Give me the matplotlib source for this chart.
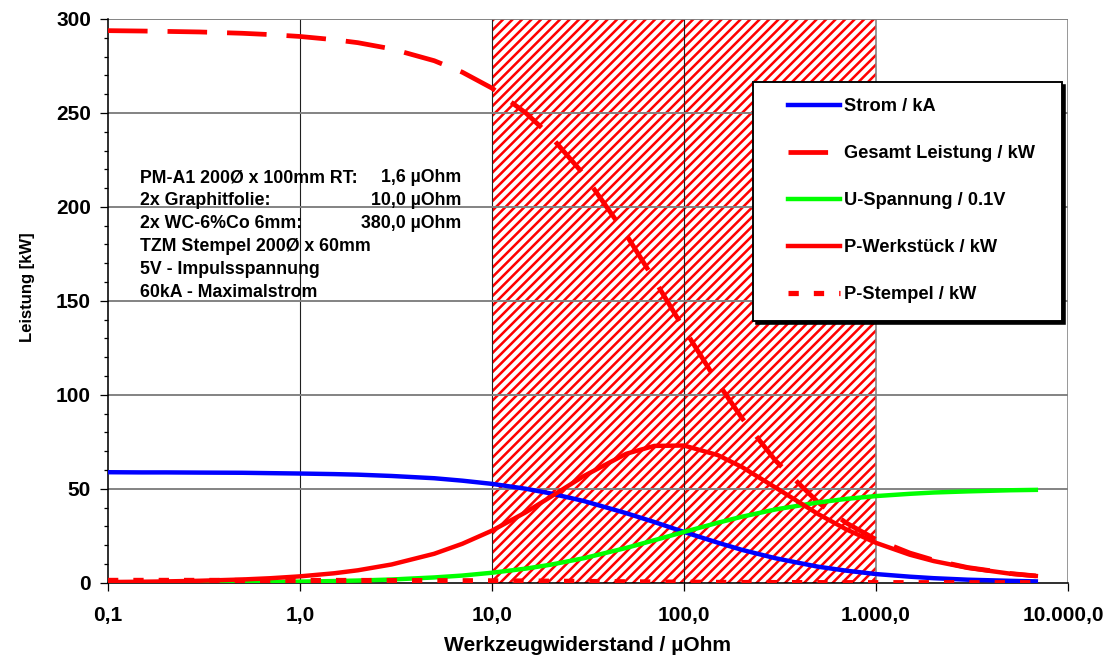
import matplotlib
matplotlib.use("Agg")
import matplotlib.pyplot as plt
from matplotlib.patches import Rectangle
from matplotlib.transforms import ScaledTranslation
from matplotlib.ticker import FixedLocator, FixedFormatter, MultipleLocator

# Werte
widerstand = [0.1, 0.15, 0.2, 0.3, 0.5, 0.7, 1, 1.5, 2, 3, 5, 7, 10, 15, 20, 30, 50, 70,
              100, 150, 200, 300, 500, 700, 1000, 1500, 2000, 3000, 5000, 6800]
strom = [58.8, 58.7, 58.7, 58.6, 58.5, 58.3, 58.1, 57.8, 57.5, 56.8, 55.6, 54.3, 52.6, 50.0,
         47.6, 43.5, 37.0, 32.3, 27.0, 21.3, 17.5, 13.0, 8.5, 6.4, 4.6, 3.2, 2.4, 1.6, 1.0, 0.7]
gesamt = [293.8, 293.6, 293.4, 293.1, 292.4, 291.7, 290.7, 289.0, 287.4, 284.1, 277.8, 271.7,
          263.2, 250.0, 238.1, 217.4, 185.2, 161.3, 135.1, 106.4, 87.7, 64.9, 42.7, 31.8,
          23.0, 15.8, 12.0, 8.1, 4.9, 3.6]
spannung = [0.06, 0.09, 0.12, 0.18, 0.29, 0.41, 0.58, 0.87, 1.15, 1.7, 2.8, 3.8, 5.3, 7.5,
            9.5, 13.0, 18.5, 22.6, 27.0, 31.9, 35.1, 39.0, 42.7, 44.6, 46.1, 47.3, 48.0,
            48.6, 49.2, 49.4]
p_werkstueck = [0.35, 0.52, 0.69, 1.03, 1.71, 2.38, 3.38, 5.0, 6.6, 9.7, 15.4, 20.7, 27.7,
                37.5, 45.4, 56.7, 68.6, 72.8, 73.0, 67.9, 61.6, 50.6, 36.5, 28.4, 21.2,
                14.9, 11.5, 7.9, 4.8, 3.6]
p_stempel = [1.21, 1.21, 1.21, 1.20, 1.20, 1.19, 1.18, 1.17, 1.16, 1.13, 1.08, 1.03, 0.97,
             0.88, 0.79, 0.66, 0.48, 0.36, 0.26, 0.16, 0.11, 0.06, 0.03, 0.01, 0.01, 0.0,
             0.0, 0.0, 0.0, 0.0]

bereich = (10, 1000)  # schraffierter Bereich

x_ticks = [0.1, 1, 10, 100, 1000, 10000]
x_ticklabels = ["0,1", "1,0", "10,0", "100,0", "1.000,0", "10.000,0"]
y_ticks = [0, 50, 100, 150, 200, 250, 300]

info_links = ["PM-A1 200Ø x 100mm RT:", "2x Graphitfolie:", "2x WC-6%Co 6mm:",
              "TZM Stempel 200Ø x 60mm", "5V - Impulsspannung", "60kA - Maximalstrom"]
info_rechts = ["1,6 µOhm", "10,0 µOhm", "380,0 µOhm"]

DPI = 114
plt.rcParams['font.family'] = ['Liberation Sans', 'DejaVu Sans']
plt.rcParams['font.weight'] = 'bold'
plt.rcParams['hatch.linewidth'] = 1.6
plt.rcParams['lines.scale_dashes'] = False

fig = plt.figure(figsize=(1107 / DPI, 660 / DPI), dpi=DPI)
ax = fig.add_axes([108 / 1107, 77.3 / 660, 960 / 1107, 563.7 / 660])

# Schraffur
ax.axvspan(bereich[0], bereich[1], facecolor='white', edgecolor='#ff0000',
           hatch='////', linewidth=0, zorder=1)

# Gitter
for v in x_ticks[1:-2]:
    ax.axvline(v, color='#202020', linewidth=0.7, zorder=1.5)
for v in x_ticks[-2:]:
    ax.axvline(v, color='#808080', linewidth=1.0, zorder=1.5)
for v in y_ticks[1:]:
    ax.axhline(v, color='#808080', linewidth=1.2, zorder=1.5)

ax.plot(widerstand, strom, color='#0000ff', lw=2.8, label='Strom / kA', zorder=3)
ax.plot(widerstand, gesamt, color='#ff0000', lw=3.0, dashes=(25, 12.6),
        label='Gesamt Leistung / kW', zorder=3)
ax.plot(widerstand, spannung, color='#00ff00', lw=2.8, label='U-Spannung / 0.1V', zorder=3)
ax.plot(widerstand, p_werkstueck, color='#ff0000', lw=2.8, label='P-Werkstück / kW', zorder=3)
ax.plot(widerstand, p_stempel, color='#ff0000', lw=3.3, dashes=(6.5, 9.5),
        label='P-Stempel / kW', zorder=3)

ax.set_xscale('log')
ax.set_xlim(0.1, 10000)
ax.set_ylim(0, 300)
ax.xaxis.set_major_locator(FixedLocator(x_ticks))
ax.xaxis.set_major_formatter(FixedFormatter(x_ticklabels))
ax.xaxis.set_minor_locator(FixedLocator([]))
ax.yaxis.set_major_locator(FixedLocator(y_ticks))
ax.yaxis.set_minor_locator(MultipleLocator(10))

ax.tick_params(axis='both', which='major', direction='out', length=5, width=0.8,
               labelsize=13.2)
ax.tick_params(axis='x', which='major', pad=9.5)
ax.tick_params(axis='y', which='major', pad=5.7)
ax.tick_params(axis='y', which='minor', direction='out', length=2.5, width=0.8)

# letzte Beschriftung wie im Original an den Rand geschoben
letzte = ax.get_xticklabels()[-1]
letzte.set_ha('right')
letzte.set_transform(letzte.get_transform() + ScaledTranslation(36 / DPI, 0, fig.dpi_scale_trans))

for s in ['top', 'right']:
    ax.spines[s].set_visible(False)
ax.spines['left'].set_linewidth(1.0)
ax.spines['bottom'].set_linewidth(1.0)

ax.set_xlabel('Werkzeugwiderstand / µOhm', fontsize=13.3, fontweight='bold')
ax.set_ylabel('Leistung [kW]', fontsize=10.5, fontweight='bold')
ax.xaxis.set_label_coords(0.5, -0.094)
ax.yaxis.set_label_coords(-0.076, 0.525)

# Textblock
y0 = 0.7103
dy = 0.0406
for i, t in enumerate(info_links):
    ax.text(0.0333, y0 - i * dy, t, transform=ax.transAxes, fontsize=11.2,
            fontweight='bold', va='baseline', ha='left', zorder=5)
for i, t in enumerate(info_rechts):
    ax.text(0.3677, y0 - i * dy, t, transform=ax.transAxes, fontsize=11.2,
            fontweight='bold', va='baseline', ha='right', zorder=5)

# Legende mit Rahmen und Schatten
x0, x1, yb, yt = 0.672, 0.994, 0.464, 0.888
ax.add_patch(Rectangle((x0 + 0.003, yb - 0.0055), x1 - x0, yt - yb, transform=ax.transAxes,
                       facecolor='black', edgecolor='black', zorder=6, clip_on=False))
ax.add_patch(Rectangle((x0, yb), x1 - x0, yt - yb, transform=ax.transAxes,
                       facecolor='white', edgecolor='black', linewidth=1.2, zorder=6.5,
                       clip_on=False))
leg = ax.legend(loc='upper left', bbox_to_anchor=(0.7083, 0.859), frameon=False,
                borderpad=0, borderaxespad=0, handlelength=2.86,
                handletextpad=0.2, labelspacing=1.64, prop={'weight': 'bold', 'size': 11.5})
leg.set_zorder(7)

fig.savefig('out.png', dpi=DPI)
